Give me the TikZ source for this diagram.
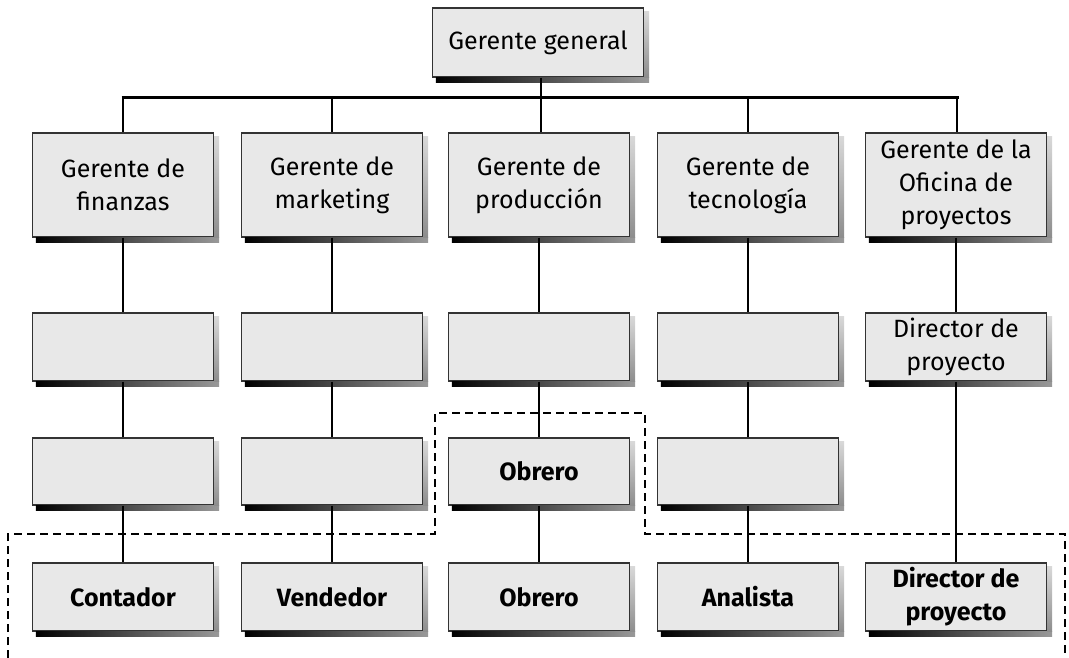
\documentclass[tikz,border=0pt]{standalone}
\usepackage{fontspec}
\setmainfont{Fira Sans}
\begin{document}
\begin{tikzpicture}[x=1pt,y=-1pt,
  orgbox/.style={draw=black!80, line width=1.3pt, fill=black!9, inner sep=0pt,
    minimum width=181pt, align=center, font=\fontsize{25}{33}\selectfont},
  boldbox/.style={orgbox, font=\fontsize{25}{33}\selectfont\bfseries},
  conn/.style={line width=2pt, black},
  bus/.style={line width=3pt, black},
  dashline/.style={line width=2.4pt, dash pattern=on 8pt off 5pt}]
\useasboundingbox (0,0) rectangle (1069,658);
% top
\node[orgbox, minimum width=211pt, minimum height=69pt] (gg) at (538,42.5) {Gerente general};
% row 1
\node[orgbox, minimum height=104pt] (a1) at (123,185) {Gerente de\\finanzas};
\node[orgbox, minimum height=104pt] (b1) at (332,185) {Gerente de\\marketing};
\node[orgbox, minimum height=104pt] (c1) at (539,185) {Gerente de\\producción};
\node[orgbox, minimum height=104pt] (d1) at (748,185) {Gerente de\\tecnología};
\node[orgbox, minimum height=104pt] (e1) at (956,185) {Gerente de la\\Oficina de\\proyectos};
% row 2
\node[orgbox, minimum height=68pt] (a2) at (123,347) {};
\node[orgbox, minimum height=68pt] (b2) at (332,347) {};
\node[orgbox, minimum height=68pt] (c2) at (539,347) {};
\node[orgbox, minimum height=68pt] (d2) at (748,347) {};
\node[orgbox, minimum height=68pt] (e2) at (956,347) {Director de\\proyecto};
% row 3
\node[orgbox, minimum height=67pt] (a3) at (123,471.5) {};
\node[orgbox, minimum height=67pt] (b3) at (332,471.5) {};
\node[boldbox, minimum height=67pt] (c3) at (539,471.5) {Obrero};
\node[orgbox, minimum height=67pt] (d3) at (748,471.5) {};
% row 4
\node[boldbox, minimum height=68pt] (a4) at (123,597) {Contador};
\node[boldbox, minimum height=68pt] (b4) at (332,597) {Vendedor};
\node[boldbox, minimum height=68pt] (c4) at (539,597) {Obrero};
\node[boldbox, minimum height=68pt] (d4) at (748,597) {Analista};
\node[boldbox, minimum height=68pt] (e4) at (956,597) {Director de\\proyecto};
% shadows
\foreach \n in {gg,a1,b1,c1,d1,e1,a2,b2,c2,d2,e2,a3,b3,c3,d3,a4,b4,c4,d4,e4}{
  \shade[left color=black, right color=black!40]
    ([xshift=4pt]\n.south west) rectangle ([xshift=5pt,yshift=-5pt]\n.south east);
  \shade[top color=black!15, bottom color=black!45]
    ([yshift=-4pt]\n.north east) rectangle ([xshift=5pt]\n.south east);
}
% bus
\coordinate (ba) at (123,98);
\coordinate (bb) at (332,98);
\coordinate (bc) at (541,98);
\coordinate (bd) at (748,98);
\coordinate (be) at (957,98);
\draw[bus] ([xshift=-1.5pt]ba) -- ([xshift=1.5pt]be);
\draw[conn] (gg.south -| bc) -- (bc);
\draw[conn] (ba) -- (ba |- a1.north);
\draw[conn] (bb) -- (bb |- b1.north);
\draw[conn] (bc) -- (bc |- c1.north);
\draw[conn] (bd) -- (bd |- d1.north);
\draw[conn] (be) -- (be |- e1.north);
% columns
\draw[conn] (a1) -- (a2); \draw[conn] (a2) -- (a3); \draw[conn] (a3) -- (a4);
\draw[conn] (b1) -- (b2); \draw[conn] (b2) -- (b3); \draw[conn] (b3) -- (b4);
\draw[conn] (c1) -- (c2); \draw[conn] (c2) -- (c3); \draw[conn] (c3) -- (c4);
\draw[conn] (d1) -- (d2); \draw[conn] (d2) -- (d3); \draw[conn] (d3) -- (d4);
\draw[conn] (e1) -- (e2); \draw[conn] (e2) -- (e4);
% dashed region
\coordinate (p1) at (8,658);
\coordinate (p2) at (8,534);
\coordinate (p3) at (435,534);
\coordinate (p4) at (435,413);
\coordinate (p5) at (645,413);
\coordinate (p6) at (645,534);
\coordinate (p7) at (1065,534);
\coordinate (p8) at (1065,658);
\draw[dashline] (p1) -- (p2) -- (p3) -- (p4) -- (p5) -- (p6) -- (p7) -- (p8);
\end{tikzpicture}
\end{document}
